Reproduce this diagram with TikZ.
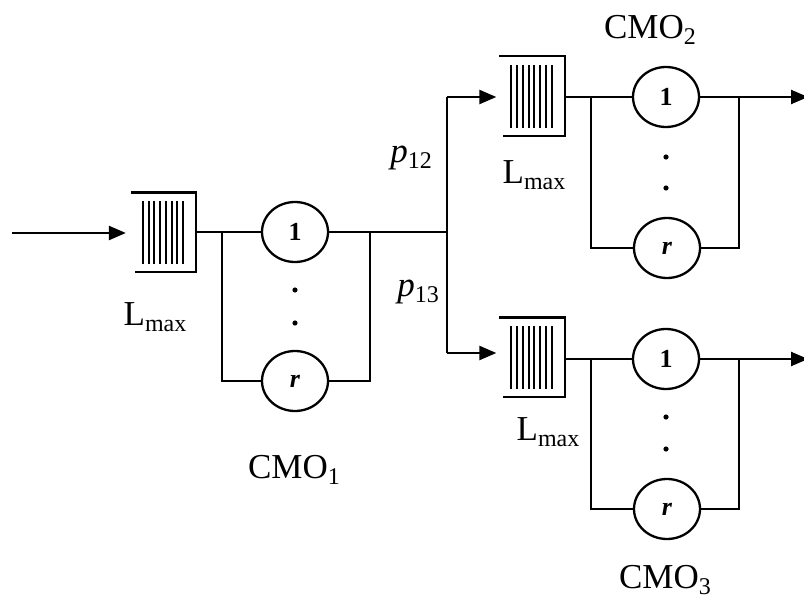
\documentclass[tikz,border=0pt]{standalone}
\usepackage{fontspec}
\setmainfont{Liberation Serif}
\usetikzlibrary{arrows.meta,shapes.geometric,calc}
\newcommand\drawqueue[1]{%
  \draw (#1.north west) -- (#1.north east) -- (#1.south east) -- ($(#1.south west)+(4,0)$);
  \foreach \i in {0,...,7}
    \draw[line width=2.1pt] ($(#1.north west)+(12+\i*5.75,9)$) -- ($(#1.south west)+(12+\i*5.75,-8)$);
}
\newcommand\sublbl[2]{#1\raisebox{-6pt}{\fontsize{24}{24}\selectfont #2}}
\begin{document}
\begin{tikzpicture}[x=1pt,y=-1pt,line width=2.3pt,
  srv/.style={ellipse,draw,minimum width=66pt,minimum height=60pt,inner sep=0pt,
    font=\fontsize{26}{26}\selectfont\bfseries},
  queue/.style={minimum width=63pt,minimum height=77pt,inner sep=0pt},
  lbl/.style={font=\fontsize{35}{35}\selectfont,inner sep=0pt},
  arr/.style={-{Triangle[length=17pt,width=14pt]}}]
\useasboundingbox (0,0) rectangle (804,602);

% CMO1
\coordinate (in) at (12,233);
\node[queue] (q1) at (163.5,232) {};
\drawqueue{q1}
\node[srv] (s11) at (295,232) {1};
\node[srv] (s1r) at (295,381) {\textit{r}};
\coordinate (b1l) at (222,232);
\coordinate (b1r) at (370,232);
\fill (295,290) circle (2.6);
\fill (295,323) circle (2.6);
\draw[arr,shorten >=5pt] (in) -- (in -| q1.west);
\draw (q1.east) -- (s11.west);
\draw (b1l) |- (s1r.west);
\draw (s1r.east) -| (b1r);

% split
\coordinate (sp) at (447,232);
\coordinate (spt) at (447,97);
\coordinate (spb) at (447,353);
\draw (s11.east) -- (b1r) -- (sp);
\draw (spt) -- (spb);

% CMO2
\node[queue] (q2) at (532,96) {};
\drawqueue{q2}
\node[srv] (s21) at (666,97) {1};
\node[srv] (s2r) at (667,248) {\textit{r}};
\coordinate (b2l) at (591,97);
\coordinate (b2r) at (739,97);
\coordinate (out2) at (808,97);
\fill (666,157) circle (2.6);
\fill (666,188) circle (2.6);
\draw[arr,shorten >=3pt] (spt) -- (spt -| q2.west);
\draw (q2.east |- s21) -- (s21.west);
\draw (b2l) |- (s2r.west);
\draw (s2r.east) -| (b2r);
\draw[arr] (s21.east) -- (out2);

% CMO3
\node[queue] (q3) at (532,357) {};
\drawqueue{q3}
\node[srv] (s31) at (666,359) {1};
\node[srv] (s3r) at (667,509) {\textit{r}};
\coordinate (b3l) at (591,359);
\coordinate (b3r) at (739,359);
\coordinate (out3) at (808,359);
\fill (666,417) circle (2.6);
\fill (666,449) circle (2.6);
\draw[arr,shorten >=3pt] (spb) -- (spb -| q3.west);
\draw (q3.east |- s31) -- (s31.west);
\draw (b3l) |- (s3r.west);
\draw (s3r.east) -| (b3r);
\draw[arr] (s31.east) -- (out3);

% labels
\node[lbl] (l1) at (155,317) {\sublbl{L}{max}};
\node[lbl] (l2) at (534,175) {\sublbl{L}{max}};
\node[lbl] (l3) at (548,432) {\sublbl{L}{max}};
\node[lbl] (c1) at (294,470) {\sublbl{CMO}{1}};
\node[lbl] (c2) at (650,30) {\sublbl{CMO}{2}};
\node[lbl] (c3) at (665,580) {\sublbl{CMO}{3}};
\node[lbl] (p12) at (411,158) {\sublbl{\textit{p}}{12}};
\node[lbl] (p13) at (418,292) {\sublbl{\textit{p}}{13}};
\end{tikzpicture}
\end{document}
